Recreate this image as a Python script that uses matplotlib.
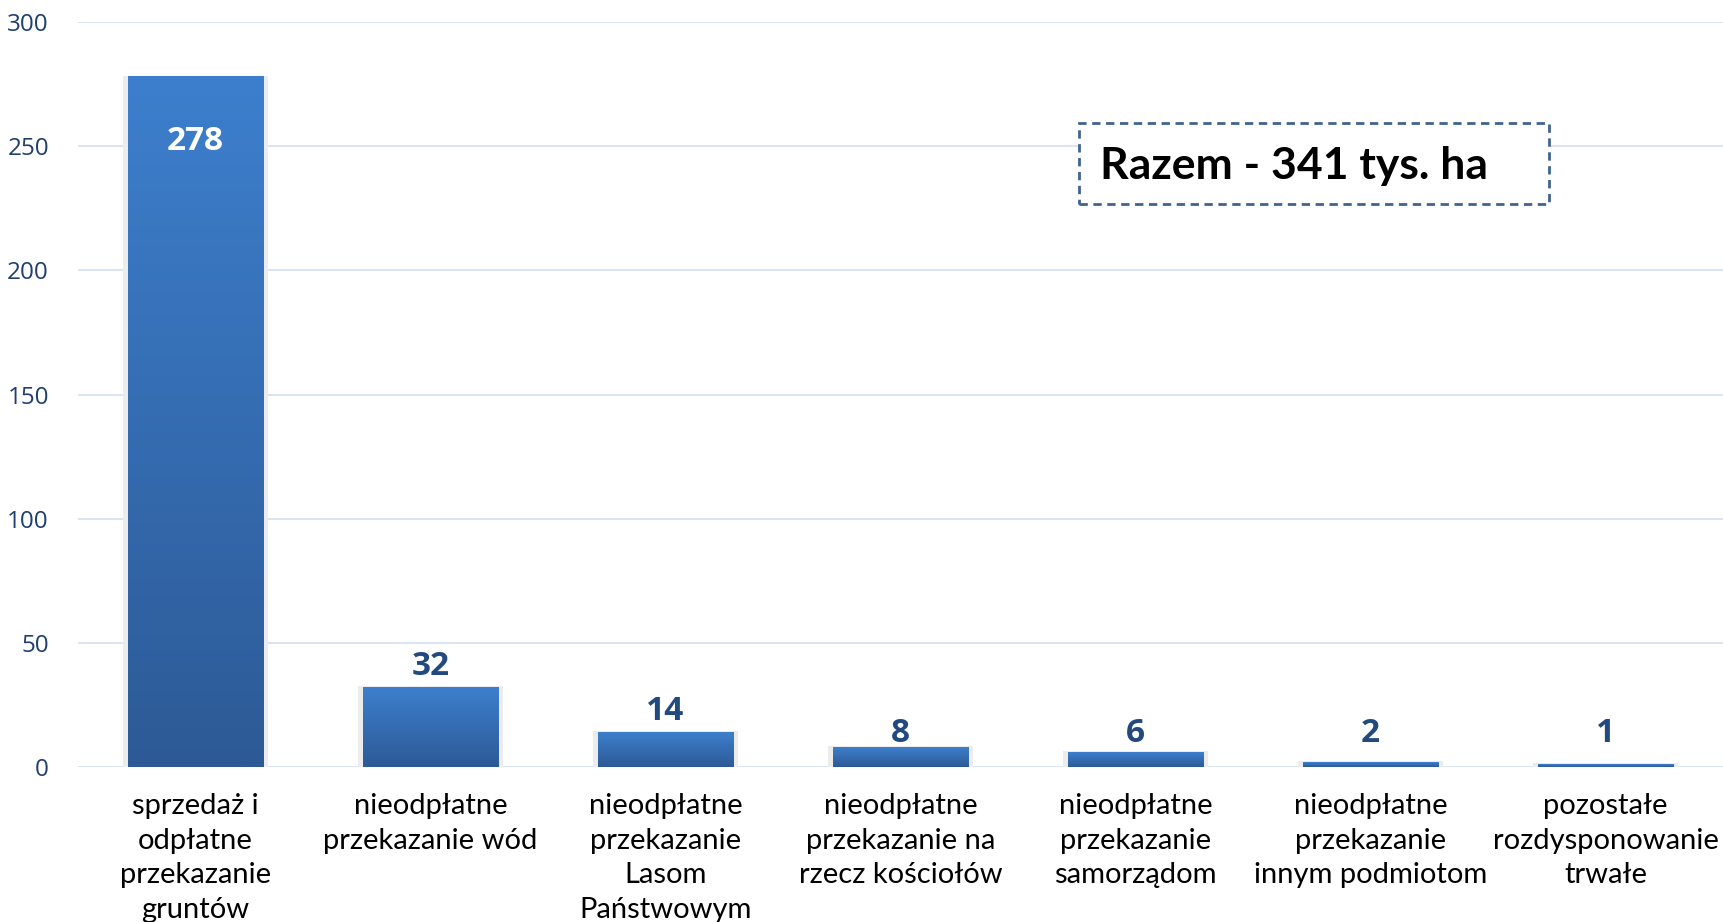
import numpy as np
import matplotlib
matplotlib.use("Agg")
import matplotlib.pyplot as plt
from matplotlib import colors
from matplotlib.patches import Rectangle

# data (tys. ha)
categories = [
    "sprzedaż i\nodpłatne\nprzekazanie\ngruntów",
    "nieodpłatne\nprzekazanie wód",
    "nieodpłatne\nprzekazanie\nLasom\nPaństwowym",
    "nieodpłatne\nprzekazanie na\nrzecz kościołów",
    "nieodpłatne\nprzekazanie\nsamorządom",
    "nieodpłatne\nprzekazanie\ninnym podmiotom",
    "pozostałe\nrozdysponowanie\ntrwałe",
]
values = [278, 32, 14, 8, 6, 2, 1]
yticks = [0, 50, 100, 150, 200, 250, 300]
total_text = "Razem - 341 tys. ha"

fig = plt.figure(figsize=(17.23, 9.22), dpi=100)
ax = fig.add_axes([0.0453, 0.168, 0.9547, 0.808])

# gradient from dark at bottom to lighter at top, per bar
grad_cmap = colors.LinearSegmentedColormap.from_list("bar", ["#2d5a96", "#3d7fcd"])
grad = np.linspace(0, 1, 256).reshape(-1, 1)
bw = 0.575
for i, v in enumerate(values):
    # faint shadow behind each bar
    ax.add_patch(Rectangle((i - bw / 2 - 0.02, 0), bw + 0.04, v + 0.5,
                           facecolor="#ececec", edgecolor="none", zorder=1))
    ax.imshow(grad, cmap=grad_cmap, origin="lower", aspect="auto",
              extent=[i - bw / 2, i + bw / 2, 0, v], zorder=2)
    if i == 0:
        ax.text(i, v - 26, str(v), ha="center", va="center", color="white",
                fontsize=24, fontweight="bold", family="Open Sans", zorder=3)
    else:
        # small bars: labels sit on a common line just above the axis
        ly = v + 8.5 if v > 10 else 13.7
        ax.text(i, ly, str(v), ha="center", va="center", color="#234a7e",
                fontsize=24, fontweight="bold", family="Open Sans", zorder=3)

ax.set_xlim(-0.5, len(values) - 0.5)
ax.set_ylim(0, 300)
ax.set_yticks(yticks)
ax.set_yticklabels([str(t) for t in yticks], color="#1f3f6e", fontsize=17.5, family="Open Sans")
ax.set_xticks(range(len(categories)))
ax.set_xticklabels(categories, fontsize=21, family="Lato", color="black",
                   linespacing=1.4, va="top")
ax.tick_params(axis="y", length=0, pad=21)
ax.tick_params(axis="x", length=0, pad=19)
ax.grid(axis="y", color="#d6e2f3", linewidth=1.3, zorder=0)
ax.set_axisbelow(True)
for s in ax.spines.values():
    s.set_visible(False)

# total box
fig.patches.append(Rectangle((1079 / 1723, 1 - 204 / 922), 470 / 1723, 81 / 922,
                             transform=fig.transFigure, fill=True, facecolor="white",
                             edgecolor="#41638f", linestyle=(0, (3, 2)), linewidth=2, zorder=5))
fig.text(1100 / 1723, 1 - 166 / 922, total_text, ha="left", va="center",
         fontsize=32, fontweight="bold", family="Lato", color="black", zorder=6)

fig.savefig("out.png", dpi=100)
